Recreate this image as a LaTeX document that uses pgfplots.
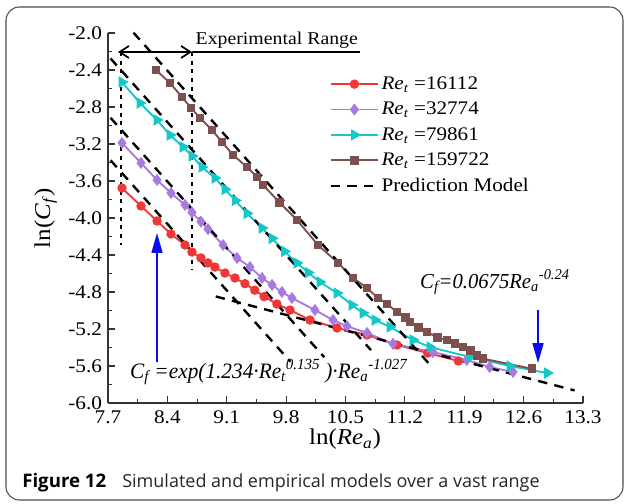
\documentclass[border=0pt]{standalone}
\usepackage{fontspec}
\setmainfont{Liberation Serif}[FakeStretch=1.1]
\newfontfamily\capfont{Open Sans}
\usepackage{graphicx}
\usepackage{pgfplots}
\pgfplotsset{compat=1.18}
\usetikzlibrary{arrows.meta}

\definecolor{cred}{RGB}{240,55,55}
\definecolor{cpur}{RGB}{168,122,222}
\definecolor{ccyan}{RGB}{20,200,200}
\definecolor{cbrown}{RGB}{124,80,76}
\definecolor{cblue}{RGB}{10,10,245}

\newcommand\SubSup[2]{\textsubscript{#1}\textsuperscript{#2}}

\begin{document}
\begin{tikzpicture}
\useasboundingbox (0,0) rectangle (468pt,377.25pt);
\draw[black!70, line width=0.8pt, rounded corners=10pt] (4.5pt,2.25pt) rectangle (467.25pt,372pt);
\node[anchor=base west, inner sep=0pt] at (16.5pt,12pt) {\capfont\fontsize{14}{16}\selectfont\textbf{Figure 12}};
\node[anchor=base west, inner sep=0pt] at (91.5pt,12pt) {\capfont\fontsize{13.5}{16}\selectfont\color{black!85}Simulated and empirical models over a vast range};

\begin{axis}[
  at={(81pt,75pt)}, anchor=south west,
  scale only axis, width=356.25pt, height=277.5pt,
  xmin=7.7, xmax=13.3, ymin=-6.0, ymax=-2.0,
  axis x line*=bottom, axis y line*=left,
  axis line style={-, line width=0.8pt, black!80},
  xtick={7.7,8.4,9.1,9.8,10.5,11.2,11.9,12.6,13.3},
  ytick={-6.0,-5.6,-5.2,-4.8,-4.4,-4.0,-3.6,-3.2,-2.8,-2.4,-2.0},
  minor x tick num=1, minor y tick num=1,
  tick align=inside,
  major tick length=5pt, minor tick length=3pt,
  tick style={line width=0.8pt, black!80},
  /pgf/number format/fixed, /pgf/number format/fixed zerofill,
  /pgf/number format/precision=1,
  /pgf/number format/assume math mode=true,
  ticklabel style={font=\fontsize{14.5}{17}\selectfont},
  yticklabel style={xshift=-1pt},
  xticklabel style={yshift=-2pt},
  clip=false,
  legend cell align=left,
  legend style={at={(rel axis cs:0.457,0.895)}, anchor=north west, draw=none, fill=none,
    font=\fontsize{14.4}{17}\selectfont, row sep=5pt,
    nodes={inner sep=1.5pt}},
  legend image code/.code={\draw[mark repeat=2,mark phase=2,#1] plot coordinates {(0cm,0cm) (0.63cm,0cm) (1.26cm,0cm)};},
]
% data series
\addplot[cred, line width=1.4pt, mark=*, mark size=2.8pt, mark options={solid}] coordinates {
(7.865,-3.676) (8.089,-3.870) (8.278,-4.032) (8.443,-4.173) (8.608,-4.292)
(8.690,-4.368) (8.796,-4.432) (8.879,-4.486) (8.961,-4.530) (9.079,-4.595)
(9.197,-4.649) (9.315,-4.710) (9.430,-4.780) (9.540,-4.850) (9.692,-4.930)
(9.846,-4.995) (10.081,-5.103) (10.400,-5.189) (10.754,-5.265) (11.107,-5.373)
(11.470,-5.460) (11.830,-5.546)};
\addlegendentry{\textit{Re}\textsubscript{\textit{t}} =16112}

\addplot[cpur, line width=1.4pt, mark=diamond*, mark size=3.4pt, mark options={solid}] coordinates {
(7.865,-3.189) (8.089,-3.405) (8.278,-3.589) (8.443,-3.730) (8.608,-3.859)
(8.690,-3.940) (8.796,-4.040) (8.879,-4.120) (9.056,-4.292) (9.221,-4.432)
(9.374,-4.530) (9.516,-4.649) (9.634,-4.724) (9.751,-4.800) (9.869,-4.865)
(10.140,-4.995) (10.353,-5.103) (10.518,-5.170) (10.754,-5.243) (11.060,-5.360)
(11.530,-5.449) (11.930,-5.535) (12.200,-5.611) (12.475,-5.665)};
\addlegendentry{\textit{Re}\textsubscript{\textit{t}} =32774}

\addplot[ccyan, line width=1.4pt, mark=triangle*, mark size=3.6pt, mark options={solid, rotate=-90}] coordinates {
(7.865,-2.530) (8.077,-2.757) (8.278,-2.941) (8.431,-3.103) (8.584,-3.232)
(8.690,-3.330) (8.808,-3.449) (8.961,-3.568) (9.080,-3.690) (9.200,-3.810)
(9.339,-3.950) (9.516,-4.108) (9.634,-4.220) (9.780,-4.360) (9.928,-4.486)
(10.060,-4.590) (10.199,-4.692) (10.400,-4.811) (10.577,-4.941) (10.706,-5.027)
(10.848,-5.103) (11.025,-5.178) (11.296,-5.319) (11.496,-5.395) (11.968,-5.503)
(12.440,-5.600) (12.880,-5.676)};
\addlegendentry{\textit{Re}\textsubscript{\textit{t}} =79861}

\addplot[cbrown, line width=1.4pt, mark=square*, mark size=2.6pt, mark options={solid}] coordinates {
(8.266,-2.400) (8.431,-2.541) (8.572,-2.692) (8.679,-2.811) (8.785,-2.919)
(8.926,-3.049) (9.044,-3.178) (9.174,-3.319) (9.339,-3.449) (9.457,-3.557)
(9.527,-3.643) (9.720,-3.830) (9.928,-4.022) (10.176,-4.292) (10.412,-4.486)
(10.589,-4.649) (10.754,-4.757) (10.883,-4.865) (10.990,-4.930) (11.107,-5.016)
(11.210,-5.080) (11.261,-5.124) (11.360,-5.180) (11.461,-5.232) (11.580,-5.290)
(11.697,-5.319) (11.790,-5.360) (11.885,-5.395) (11.970,-5.430) (12.050,-5.490)
(12.120,-5.520) (12.699,-5.630)};
\addlegendentry{\textit{Re}\textsubscript{\textit{t}} =159722}

% prediction model lines
\addplot[black, line width=1.8pt, dash pattern=on 7pt off 5.5pt] coordinates {(7.73,-3.376) (9.85,-5.553)};
\addlegendentry{Prediction Model}
\addplot[black, line width=1.8pt, dash pattern=on 7pt off 5.5pt, forget plot] coordinates {(7.73,-2.917) (10.25,-5.505)};
\addplot[black, line width=1.8pt, dash pattern=on 7pt off 5.5pt, forget plot] coordinates {(7.73,-2.275) (10.80,-5.428)};
\addplot[black, line width=1.8pt, dash pattern=on 7pt off 5.5pt, forget plot] coordinates {(8.00,-1.996) (11.50,-5.591)};
\addplot[black, line width=1.8pt, dash pattern=on 7pt off 5.5pt, forget plot] coordinates {(8.97,-4.848) (13.20,-5.864)};

% experimental range bounds
\addplot[black, line width=1.8pt, dash pattern=on 3pt off 3.5pt, forget plot] coordinates {(7.853,-2.205) (7.853,-4.29)};
\addplot[black, line width=1.8pt, dash pattern=on 3pt off 3.5pt, forget plot] coordinates {(8.690,-2.205) (8.690,-4.56)};
\draw[black, line width=1.3pt, {Straight Barb[length=7pt,width=9pt]}-{Straight Barb[length=7pt,width=9pt]}] (axis cs:7.818,-2.205) -- (axis cs:8.690,-2.205);
\draw[black, line width=1.3pt] (axis cs:8.690,-2.205) -- (axis cs:10.67,-2.205);
\node[anchor=base, inner sep=0pt, font=\fontsize{13.5}{16}\selectfont] at (axis cs:9.69,-2.12) {Experimental Range};

% blue arrows
\draw[cblue, line width=1.8pt, -{Triangle[length=15pt,width=8pt]}] (axis cs:8.278,-5.557) -- (axis cs:8.278,-4.16);
\draw[cblue, line width=1.8pt, -{Triangle[length=15pt,width=8pt]}] (axis cs:12.77,-4.995) -- (axis cs:12.77,-5.57);

% formulas
\node[anchor=base west, inner sep=0pt, font=\fontsize{16.5}{18}\selectfont\itshape] at (axis cs:7.959,-5.730)
  {\scalebox{0.88}[1]{C\textsubscript{f} =exp(1.234·Re\SubSup{t}{0.135} )·Re\SubSup{a}{-1.027}}};
\node[anchor=base west, inner sep=0pt, font=\fontsize{16}{18}\selectfont\itshape] at (axis cs:11.378,-4.757)
  {\scalebox{0.88}[1]{C\textsubscript{f}=0.0675Re\SubSup{a}{-0.24}}};

% axis labels
\node[anchor=base, inner sep=0pt, font=\fontsize{17}{20}\selectfont] at (rel axis cs:0.499,-0.1135) {ln(\textit{Re}\textsubscript{\textit{a}})};
\node[anchor=base, rotate=90, inner sep=0pt, font=\fontsize{17}{20}\selectfont] at (rel axis cs:-0.122,0.5) {ln(\textit{C}\textsubscript{\textit{f}})};
\end{axis}
\end{tikzpicture}
\end{document}
